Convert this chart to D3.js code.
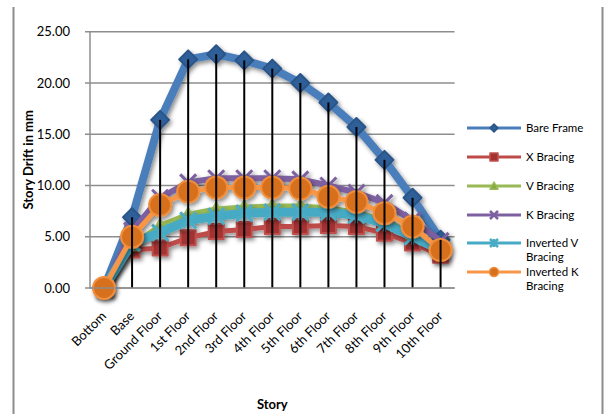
<!DOCTYPE html>
<html>
<head>
<meta charset="utf-8">
<script src="https://cdn.jsdelivr.net/npm/d3@7"></script>
<style>
  html, body { margin: 0; padding: 0; background: #fff; }
  svg { display: block; font-family: Lato, "Open Sans", sans-serif; }
</style>
</head>
<body>
<svg id="chart" width="605" height="414"></svg>
<script>
// Story drift (mm) per level for each bracing system
const stories = ["Bottom", "Base", "Ground Floor", "1st Floor", "2nd Floor", "3rd Floor", "4th Floor",
                 "5th Floor", "6th Floor", "7th Floor", "8th Floor", "9th Floor", "10th Floor"];
const bareFrame   = [0, 6.9, 16.4, 22.3, 22.8, 22.2, 21.4, 20.0, 18.1, 15.7, 12.5, 8.8, 4.7];
const xBracing    = [0, 3.7, 3.9, 4.9, 5.5, 5.7, 6.0, 6.0, 6.1, 6.0, 5.35, 4.4, 3.2];
const vBracing    = [0, 4.2, 6.1, 7.2, 7.7, 7.9, 8.0, 8.0, 7.8, 7.4, 6.6, 5.3, 4.1];
const kBracing    = [0, 5.6, 8.8, 10.3, 10.7, 10.7, 10.7, 10.6, 10.0, 9.3, 8.3, 6.6, 4.6];
const invVBracing = [0, 4.4, 5.4, 6.6, 7.0, 7.3, 7.4, 7.4, 7.4, 7.1, 6.3, 5.0, 3.7];
const invKBracing = [0, 5.0, 8.1, 9.4, 9.8, 9.8, 9.8, 9.7, 8.9, 8.4, 7.3, 6.0, 3.7];
const yTicks = [0, 5, 10, 15, 20, 25];

const series = [
  { name: "Bare Frame",          values: bareFrame,   line: "#4a7ebb", fill: "#2f5f98", stroke: "#2a5488", marker: "diamond", lw: 8 },
  { name: "X Bracing",           values: xBracing,    line: "#be4b48", fill: "#a33330", stroke: "#c0504d", marker: "square",  lw: 5 },
  { name: "V Bracing",           values: vBracing,    line: "#98b954", fill: "#86a83e", stroke: "#9bbb59", marker: "triangle", lw: 5 },
  { name: "K Bracing",           values: kBracing,    line: "#7d60a0", fill: "none",    stroke: "#7d60a0", marker: "cross",   lw: 6 },
  { name: "Inverted V\nBracing", values: invVBracing, line: "#46aac5", fill: "none",    stroke: "#4bacc6", marker: "star",    lw: 9 },
  { name: "Inverted K\nBracing", values: invKBracing, line: "#f79646", fill: "#d6701c", stroke: "#f08e3c", marker: "circle",  lw: 5 }
];

const svg = d3.select("#chart");
const plot = { left: 90, right: 454.6, top: 31.7, bottom: 288 };

const x = d3.scalePoint().domain(stories).range([plot.left, plot.right]).padding(0.5);
const y = d3.scaleLinear().domain([0, 25]).range([plot.bottom, plot.top]);

const defs = svg.append("defs");
const sh = defs.append("filter").attr("id", "shadow").attr("x", "-50%").attr("y", "-50%").attr("width", "200%").attr("height", "200%");
sh.append("feDropShadow").attr("dx", 2).attr("dy", 2.5).attr("stdDeviation", 2).attr("flood-color", "#000").attr("flood-opacity", 0.45);

// chart frame (left and right edges)
svg.append("line").attr("x1", 13.5).attr("x2", 13.5).attr("y1", 7).attr("y2", 414).attr("stroke", "#8c8c8c").attr("stroke-width", 2);
svg.append("line").attr("x1", 602.5).attr("x2", 602.5).attr("y1", 7).attr("y2", 414).attr("stroke", "#8c8c8c").attr("stroke-width", 2);

// horizontal gridlines with outside tick marks
svg.append("g").selectAll("line").data(yTicks).join("line")
  .attr("x1", plot.left - 5).attr("x2", plot.right)
  .attr("y1", d => y(d)).attr("y2", d => y(d))
  .attr("stroke", "#8e8e8e").attr("stroke-width", 1.5);

// value axis labels
svg.append("g").selectAll("text").data(yTicks).join("text")
  .attr("x", 70).attr("y", d => y(d)).attr("dy", "0.35em")
  .attr("text-anchor", "end").attr("font-size", 13).attr("fill", "#000")
  .text(d => d3.format(".2f")(d));

// value axis line
svg.append("line").attr("x1", plot.left).attr("x2", plot.left).attr("y1", plot.top).attr("y2", plot.bottom)
  .attr("stroke", "#8e8e8e").attr("stroke-width", 1.5);

// marker shapes
function symbolPath(kind, s) {
  const h = s / 2;
  switch (kind) {
    case "diamond":  return `M0,${-h}L${h},0L0,${h}L${-h},0Z`;
    case "square":   return `M${-h},${-h}H${h}V${h}H${-h}Z`;
    case "triangle": return `M0,${-h}L${h},${h * 0.8}H${-h}Z`;
    case "cross":    return `M${-h},${-h}L${h},${h}M${h},${-h}L${-h},${h}`;
    case "star":     return `M${-h},${-h}L${h},${h}M${h},${-h}L${-h},${h}M0,${-h}V${h}`;
    default:         return "";
  }
}
function drawMarker(g, s, kind, size, stroke) {
  if (kind === "circle") {
    g.append("circle").attr("r", size / 2).attr("fill", s.fill).attr("stroke", s.stroke).attr("stroke-width", stroke);
  } else if (kind === "cross" || kind === "star") {
    g.append("path").attr("d", symbolPath(kind, size)).attr("fill", "none").attr("stroke", s.stroke).attr("stroke-width", stroke);
  } else {
    g.append("path").attr("d", symbolPath(kind, size)).attr("fill", s.fill).attr("stroke", s.stroke).attr("stroke-width", stroke).attr("stroke-linejoin", "round");
  }
}

const markerSize = { diamond: 18, square: 15, triangle: 13, cross: 16, star: 16, circle: 22 };

const lineGen = d3.line().x((d, i) => x(stories[i])).y(d => y(d));

series.forEach(s => {
  const g = svg.append("g").attr("filter", "url(#shadow)");
  g.append("path").datum(s.values).attr("d", lineGen)
    .attr("fill", "none").attr("stroke", s.line).attr("stroke-width", s.lw)
    .attr("stroke-linejoin", "round").attr("stroke-linecap", "round");
  s.values.forEach((v, i) => {
    const m = g.append("g").attr("transform", `translate(${x(stories[i])},${y(v)})`);
    drawMarker(m, s, s.marker, markerSize[s.marker], (s.marker === "cross" || s.marker === "star") ? 3 : 2);
  });
});

// drop lines from the highest value at each story down to the category axis
const maxima = stories.map((st, i) => d3.max(series, s => s.values[i]));
svg.append("g").selectAll("line").data(stories.filter((st, i) => maxima[i] > 0)).join("line")
  .attr("x1", d => x(d)).attr("x2", d => x(d))
  .attr("y1", d => y(maxima[stories.indexOf(d)])).attr("y2", plot.bottom)
  .attr("stroke", "#000").attr("stroke-width", 2);

// category axis line
svg.append("line").attr("x1", plot.left).attr("x2", plot.right).attr("y1", plot.bottom).attr("y2", plot.bottom)
  .attr("stroke", "#8e8e8e").attr("stroke-width", 1.5);

// category labels, rotated
svg.append("g").selectAll("text").data(stories).join("text")
  .attr("transform", d => `translate(${x(d) + 3},${plot.bottom + 29}) rotate(-45)`)
  .attr("text-anchor", "end").attr("font-size", 13).attr("fill", "#000")
  .text(d => d);

// axis titles
svg.append("text").attr("x", (plot.left + plot.right) / 2).attr("y", 409)
  .attr("text-anchor", "middle").attr("font-size", 13).attr("font-weight", "bold").text("Story");
svg.append("text").attr("transform", `translate(33,${(plot.top + plot.bottom) / 2}) rotate(-90)`)
  .attr("text-anchor", "middle").attr("font-size", 13).attr("font-weight", "bold").text("Story Drift in mm");

// legend
const legendRows = [128, 157, 186, 215, 243, 272];
series.forEach((s, i) => {
  const g = svg.append("g").attr("transform", `translate(0,${legendRows[i]})`);
  g.append("line").attr("x1", 467).attr("x2", 521).attr("stroke", s.line).attr("stroke-width", 3);
  const m = g.append("g").attr("transform", "translate(494,0)");
  drawMarker(m, s, s.marker, s.marker === "circle" ? 9 : 8, (s.marker === "cross" || s.marker === "star") ? 2.5 : 1.5);
  const t = g.append("text").attr("x", 526).attr("y", 0).attr("font-size", 11.5).attr("fill", "#000");
  s.name.split("\n").forEach((part, k) => {
    t.append("tspan").attr("x", 526).attr("dy", k === 0 ? "0.35em" : "14").text(part);
  });
});
</script>
</body>
</html>
